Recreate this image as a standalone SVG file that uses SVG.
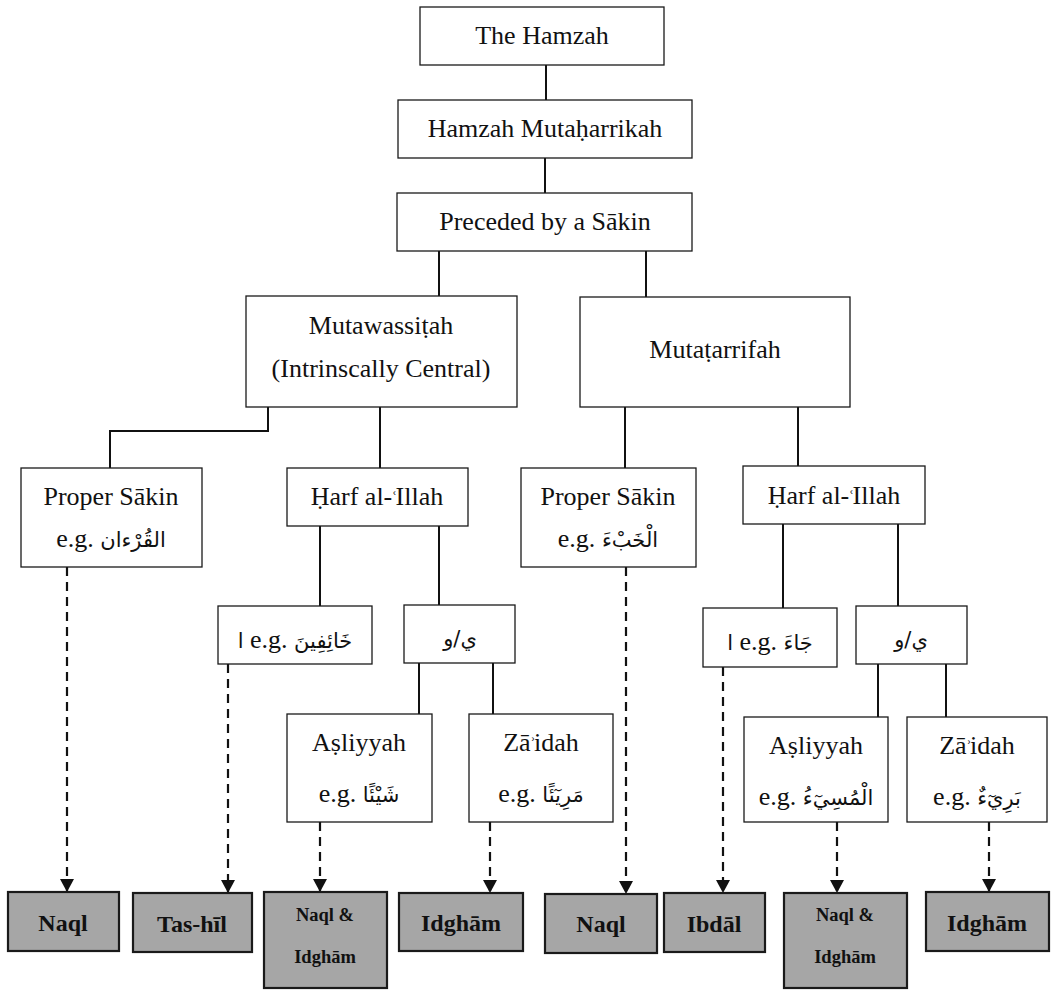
<svg xmlns="http://www.w3.org/2000/svg" width="1053" height="990" viewBox="0 0 1053 990">
  <style>
    .box { fill: #ffffff; stroke: #1a1a1a; stroke-width: 1.3; }
    .res { fill: #a6a6a6; stroke: #1a1a1a; stroke-width: 2.2; }
    .t { font-family: "Liberation Serif", "DejaVu Serif", serif; font-size: 26px; fill: #111111; text-anchor: middle; }
    .b { font-weight: bold; font-size: 24px; }
    .b2 { font-weight: bold; font-size: 18.5px; }
    .ar { font-family: "DejaVu Sans", sans-serif; font-size: 21px; }
    .mk { font-size: 19px; }
    .ln { stroke: #111111; stroke-width: 2; fill: none; }
    .dash { stroke: #111111; stroke-width: 2.2; fill: none; stroke-dasharray: 9 6; marker-end: url(#arrow); }
  </style>
  <defs>
    <marker id="arrow" markerUnits="userSpaceOnUse" markerWidth="16" markerHeight="16" viewBox="0 0 16 16" refX="14" refY="8" orient="auto">
      <path d="M1,1 L14,8 L1,15 Z" fill="#111111"/>
    </marker>
  </defs>

  <!-- connectors -->
  <g id="connectors">
    <path class="ln" d="M546 65 V100"/>
    <path class="ln" d="M545 158 V193"/>
    <path class="ln" d="M439 251 V296"/>
    <path class="ln" d="M646 251 V297"/>
    <path class="ln" d="M268 407 V431 H110 V468"/>
    <path class="ln" d="M380 407 V468"/>
    <path class="ln" d="M320 526 V606"/>
    <path class="ln" d="M439 526 V605"/>
    <path class="ln" d="M419 663 V714"/>
    <path class="ln" d="M493 663 V714"/>
    <path class="ln" d="M625 407 V468"/>
    <path class="ln" d="M798 407 V466"/>
    <path class="ln" d="M783 524 V608"/>
    <path class="ln" d="M898 524 V606"/>
    <path class="ln" d="M878 664 V717"/>
    <path class="ln" d="M946 664 V717"/>
    <!-- dashed arrows to the rulings -->
    <path class="dash" d="M67 567 V892"/>
    <path class="dash" d="M228 664 V893"/>
    <path class="dash" d="M320 822 V892"/>
    <path class="dash" d="M490 822 V893"/>
    <path class="dash" d="M626 567 V894"/>
    <path class="dash" d="M723 667 V893"/>
    <path class="dash" d="M837 822 V893"/>
    <path class="dash" d="M989 822 V892"/>
  </g>

  <g id="hamzah">
    <rect class="box" x="420" y="7" width="244" height="58"/>
    <text class="t" x="542" y="44">The Hamzah</text>
  </g>
  <g id="mutaharrikah">
    <rect class="box" x="398" y="100" width="294" height="58"/>
    <text class="t" x="545" y="137">Hamzah Mutaḥarrikah</text>
  </g>
  <g id="preceded">
    <rect class="box" x="397" y="193" width="295" height="58"/>
    <text class="t" x="545" y="230">Preceded by a Sākin</text>
  </g>
  <g id="mutawassitah">
    <rect class="box" x="246" y="296" width="271" height="111"/>
    <text class="t" x="381" y="334">Mutawassiṭah</text>
    <text class="t" x="381" y="377">(Intrinscally Central)</text>
  </g>
  <g id="mutatarrifah">
    <rect class="box" x="580" y="297" width="270" height="110"/>
    <text class="t" x="715" y="358">Mutaṭarrifah</text>
  </g>

  <g id="proper-sakin-1">
    <rect class="box" x="21" y="468" width="181" height="99"/>
    <text class="t" x="111" y="505">Proper Sākin</text>
    <text class="t" x="111" y="547">e.g. <tspan class="ar">القُرْءان</tspan></text>
  </g>
  <g id="harf-1">
    <rect class="box" x="287" y="468" width="181" height="58"/>
    <text class="t" x="377" y="505">Ḥarf al-<tspan class="mk" dx="-1">ʿ</tspan><tspan dx="-2">Illah</tspan></text>
  </g>
  <g id="proper-sakin-2">
    <rect class="box" x="521" y="468" width="175" height="99"/>
    <text class="t" x="608" y="505">Proper Sākin</text>
    <text class="t" x="608" y="547">e.g. <tspan class="ar">الْخَبْءَ</tspan></text>
  </g>
  <g id="harf-2">
    <rect class="box" x="743" y="466" width="182" height="58"/>
    <text class="t" x="834" y="504">Ḥarf al-<tspan class="mk" dx="-1">ʿ</tspan><tspan dx="-2">Illah</tspan></text>
  </g>

  <g id="alif-1">
    <rect class="box" x="218" y="606" width="154" height="58"/>
    <text class="t" x="295" y="648"><tspan class="ar">ا</tspan> e.g. <tspan class="ar">خَائِفِينَ</tspan></text>
  </g>
  <g id="waw-ya-1">
    <rect class="box" x="404" y="605" width="111" height="58"/>
    <text class="t ar" x="460" y="646">ي/و</text>
  </g>
  <g id="alif-2">
    <rect class="box" x="703" y="608" width="134" height="59"/>
    <text class="t" x="770" y="650"><tspan class="ar">ا</tspan> e.g. <tspan class="ar">جَاءَ</tspan></text>
  </g>
  <g id="waw-ya-2">
    <rect class="box" x="856" y="606" width="111" height="58"/>
    <text class="t ar" x="911" y="647">ي/و</text>
  </g>

  <g id="asliyyah-1">
    <rect class="box" x="287" y="714" width="145" height="108"/>
    <text class="t" x="359" y="751">Aṣliyyah</text>
    <text class="t" x="359" y="802">e.g. <tspan class="ar">شَيْئًا</tspan></text>
  </g>
  <g id="zaidah-1">
    <rect class="box" x="469" y="714" width="144" height="108"/>
    <text class="t" x="541" y="751">Zā<tspan class="mk" dx="-1">ʾ</tspan><tspan dx="-2">idah</tspan></text>
    <text class="t" x="541" y="802">e.g. <tspan class="ar">مَرِيٓئًا</tspan></text>
  </g>
  <g id="asliyyah-2">
    <rect class="box" x="744" y="717" width="144" height="105"/>
    <text class="t" x="816" y="754">Aṣliyyah</text>
    <text class="t" x="816" y="805">e.g. <tspan class="ar">الْمُسِيٓءُ</tspan></text>
  </g>
  <g id="zaidah-2">
    <rect class="box" x="907" y="717" width="140" height="105"/>
    <text class="t" x="977" y="754">Zā<tspan class="mk" dx="-1">ʾ</tspan><tspan dx="-2">idah</tspan></text>
    <text class="t" x="977" y="805">e.g. <tspan class="ar">بَرِيٓءٌ</tspan></text>
  </g>

  <!-- rulings -->
  <g id="naql-1">
    <rect class="res" x="8" y="892" width="111" height="59"/>
    <text class="t b" x="63" y="931">Naql</text>
  </g>
  <g id="tashil">
    <rect class="res" x="133" y="893" width="119" height="59"/>
    <text class="t b" x="192" y="932">Tas-hīl</text>
  </g>
  <g id="naql-idgham-1">
    <rect class="res" x="264" y="892" width="123" height="96"/>
    <text class="t b2" x="325" y="921">Naql &amp;</text>
    <text class="t b2" x="325" y="963">Idghām</text>
  </g>
  <g id="idgham-1">
    <rect class="res" x="399" y="893" width="124" height="58"/>
    <text class="t b" x="461" y="931">Idghām</text>
  </g>
  <g id="naql-2">
    <rect class="res" x="545" y="894" width="112" height="59"/>
    <text class="t b" x="601" y="932">Naql</text>
  </g>
  <g id="ibdal">
    <rect class="res" x="664" y="893" width="101" height="59"/>
    <text class="t b" x="714" y="932">Ibdāl</text>
  </g>
  <g id="naql-idgham-2">
    <rect class="res" x="784" y="893" width="123" height="95"/>
    <text class="t b2" x="845" y="921">Naql &amp;</text>
    <text class="t b2" x="845" y="963">Idghām</text>
  </g>
  <g id="idgham-2">
    <rect class="res" x="926" y="892" width="123" height="59"/>
    <text class="t b" x="987" y="931">Idghām</text>
  </g>
</svg>
